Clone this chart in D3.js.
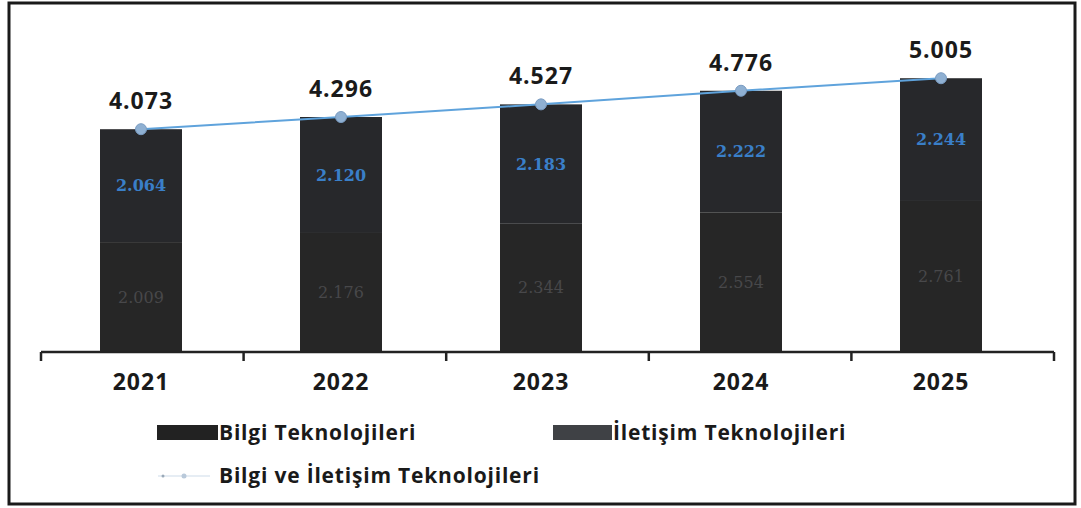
<!DOCTYPE html>
<html>
<head>
<meta charset="utf-8">
<script src="https://cdn.jsdelivr.net/npm/d3@7"></script>
<style>
  html, body { margin: 0; padding: 0; background: #fff; }
  svg { display: block; }
</style>
</head>
<body>
<svg id="chart" width="1081" height="508"></svg>
<script>
// ---- data ----
const years = ["2021", "2022", "2023", "2024", "2025"];
const bilgi = [2.009, 2.176, 2.344, 2.554, 2.761];      // bottom segment
const iletisim = [2.064, 2.120, 2.183, 2.222, 2.244];   // top segment
const toplam = [4.073, 4.296, 4.527, 4.776, 5.005];     // line series
const seriesNames = ["Bilgi Teknolojileri", "İletişim Teknolojileri", "Bilgi ve İletişim Teknolojileri"];

const fmt = v => v.toFixed(3);

const svg = d3.select("#chart");
const font = "'Open Sans', Lato, 'DejaVu Sans', sans-serif";

// frame
svg.append("rect").attr("x", 9).attr("y", 3).attr("width", 1066).attr("height", 501)
  .attr("fill", "#fff").attr("stroke", "#1a1a1a").attr("stroke-width", 3);

// scales
const x = d3.scaleBand().domain(years).range([41, 1041]).paddingInner(0.59).paddingOuter(0.295);
const y = d3.scaleLinear().domain([0, 5.6]).range([352, 352 - 5.6 * 54.7]);

const colors = { bilgi: "#262626", iletisim: "#27282b" };

// stacked bars
const stackData = years.map((yr, i) => ({ year: yr, bilgi: bilgi[i], iletisim: iletisim[i] }));
const stack = d3.stack().keys(["bilgi", "iletisim"])(stackData);

svg.append("g").selectAll("g").data(stack).join("g")
  .attr("fill", d => colors[d.key])
  .selectAll("rect").data(d => d).join("rect")
  .attr("x", d => x(d.data.year))
  .attr("width", x.bandwidth())
  .attr("y", d => y(d[1]))
  .attr("height", d => y(d[0]) - y(d[1]));

// segment labels
svg.append("g").selectAll("text").data(stackData).join("text")
  .attr("x", d => x(d.year) + x.bandwidth() / 2)
  .attr("y", d => y(d.bilgi / 2))
  .attr("dy", "0.35em")
  .attr("text-anchor", "middle")
  .attr("font-family", "'DejaVu Serif', serif").attr("font-size", 16)
  .attr("fill", "#48484a")
  .text(d => fmt(d.bilgi));

svg.append("g").selectAll("text").data(stackData).join("text")
  .attr("x", d => x(d.year) + x.bandwidth() / 2)
  .attr("y", d => y(d.bilgi + d.iletisim / 2))
  .attr("dy", "0.35em")
  .attr("text-anchor", "middle")
  .attr("font-family", "'DejaVu Serif', serif").attr("font-size", 16).attr("font-weight", "bold")
  .attr("fill", "#3a7fc8")
  .text(d => fmt(d.iletisim));

// x axis
const xAxisG = svg.append("g").attr("transform", `translate(0,${y(0)})`);
xAxisG.append("line").attr("x1", 41).attr("x2", 1054).attr("y1", 0).attr("y2", 0)
  .attr("stroke", "#222").attr("stroke-width", 2.5);
const tickPos = d3.range(years.length + 1).map(i => 41 + i * (1054 - 41) / years.length);
xAxisG.selectAll("line.tick").data(tickPos).join("line").attr("class", "tick")
  .attr("x1", d => d).attr("x2", d => d).attr("y1", 0).attr("y2", 9)
  .attr("stroke", "#222").attr("stroke-width", 2.5);
xAxisG.selectAll("text").data(years).join("text")
  .attr("x", d => x(d) + x.bandwidth() / 2)
  .attr("y", 38)
  .attr("text-anchor", "middle")
  .attr("font-family", font).attr("font-size", 23).attr("font-weight", "bold")
  .attr("letter-spacing", 1)
  .attr("fill", "#1a1a1a")
  .text(d => d);

// total line
const lineColor = "#5fa3dc";
const line = d3.line().x((d, i) => x(years[i]) + x.bandwidth() / 2).y(d => y(d));
svg.append("path").datum(toplam).attr("d", line)
  .attr("fill", "none").attr("stroke", lineColor).attr("stroke-width", 2);
svg.append("g").selectAll("circle").data(toplam).join("circle")
  .attr("cx", (d, i) => x(years[i]) + x.bandwidth() / 2)
  .attr("cy", d => y(d))
  .attr("r", 5.5)
  .attr("fill", "#8fb0d2").attr("stroke", "#7a9cc2").attr("stroke-width", 1);

// total labels
svg.append("g").selectAll("text").data(toplam).join("text")
  .attr("x", (d, i) => x(years[i]) + x.bandwidth() / 2)
  .attr("y", d => y(d) - 20)
  .attr("text-anchor", "middle")
  .attr("font-family", font).attr("font-size", 23).attr("font-weight", "bold")
  .attr("letter-spacing", 1)
  .attr("fill", "#1a1a1a")
  .text(d => fmt(d));

// legend
const leg = svg.append("g").attr("font-family", font).attr("font-size", 21).attr("font-weight", "bold")
  .attr("letter-spacing", 0.8).attr("fill", "#1a1a1a");
leg.append("rect").attr("x", 157).attr("y", 425).attr("width", 61).attr("height", 15).attr("fill", "#222");
leg.append("text").attr("x", 219).attr("y", 433).attr("dy", "0.35em").text(seriesNames[0]);
leg.append("rect").attr("x", 553).attr("y", 425).attr("width", 59).attr("height", 15).attr("fill", "#3f4145");
leg.append("text").attr("x", 613).attr("y", 433).attr("dy", "0.35em").text(seriesNames[1]);
leg.append("line").attr("x1", 158).attr("x2", 210).attr("y1", 476).attr("y2", 476)
  .attr("stroke", "#e6edf4").attr("stroke-width", 2);
leg.append("circle").attr("cx", 184).attr("cy", 476).attr("r", 2.5).attr("fill", "#b9c9da");
leg.append("circle").attr("cx", 163).attr("cy", 476).attr("r", 1.5).attr("fill", "#9aa9b8");
leg.append("text").attr("x", 219).attr("y", 476).attr("dy", "0.35em").text(seriesNames[2]);
</script>
</body>
</html>
